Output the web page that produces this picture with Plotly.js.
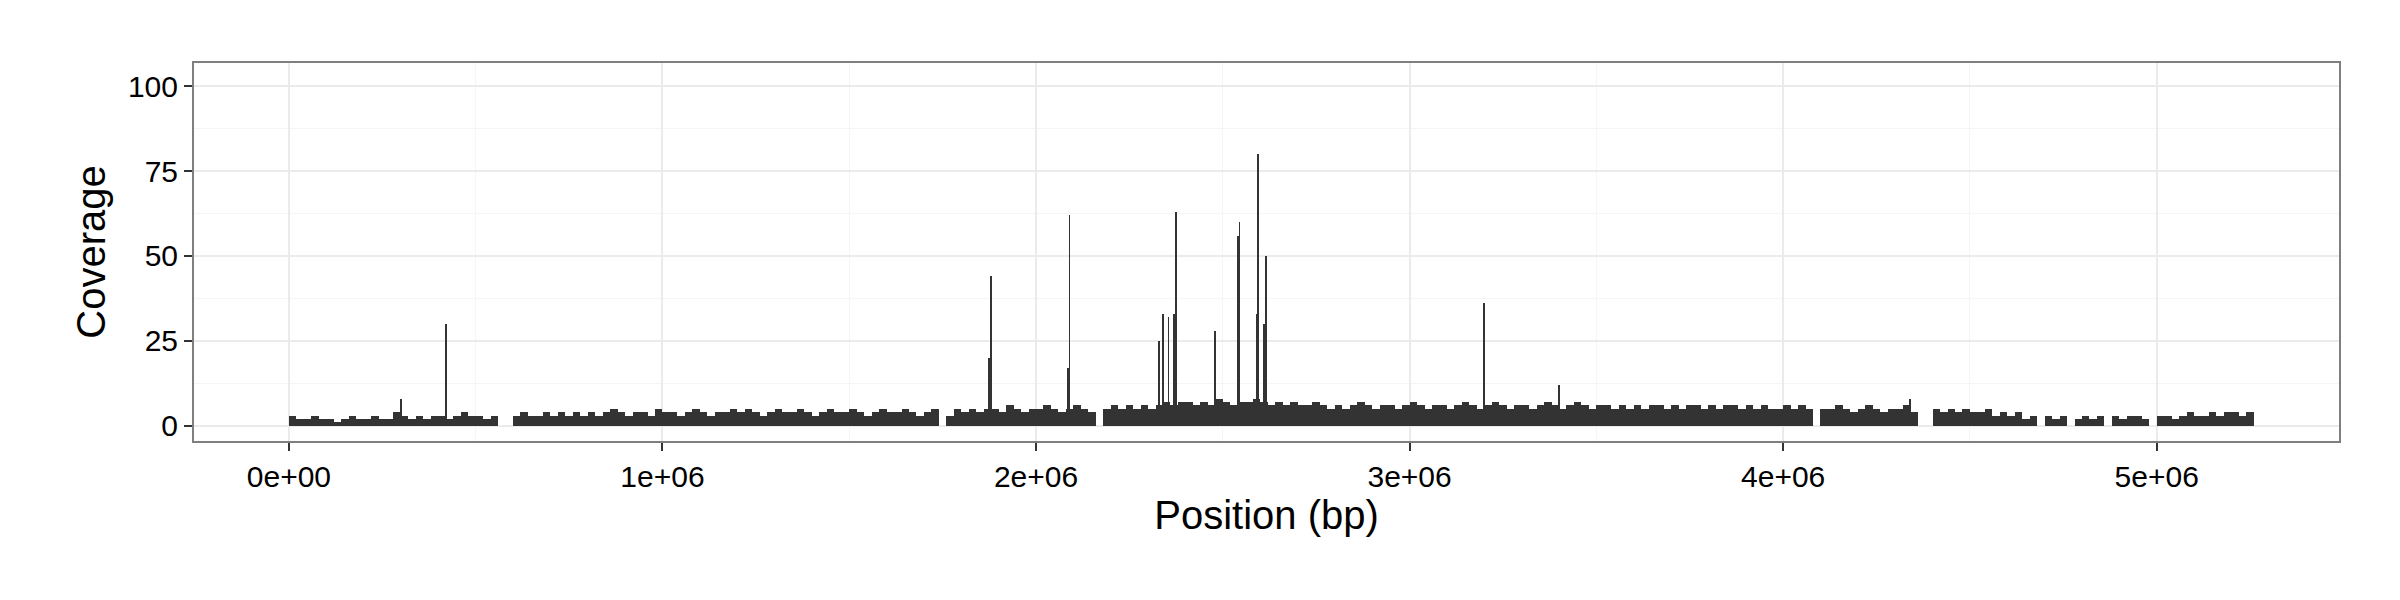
<!DOCTYPE html>
<html>
<head>
<meta charset="utf-8">
<script src="https://cdn.plot.ly/plotly-3.0.1.min.js"></script>
<style>body{margin:0;background:#fff}#chart{width:2400px;height:600px}</style>
</head>
<body>
<div id="chart"></div>
<script>
// baseline coverage, one value per 20 kb bin starting at 0
const binSize = 20000;
const baseCoverage = [
  3,2,2,3,2,2,1,2,3,2,2,3,2,2,4,3,2,3,2,3,
  3,2,3,4,3,3,2,3,0,0,3,4,3,3,4,3,4,3,4,3,
  4,3,4,5,4,3,4,4,3,5,4,4,3,4,5,4,3,4,4,5,
  4,5,4,3,4,5,4,4,5,4,3,4,5,4,4,5,4,3,4,5,
  4,4,5,4,3,4,5,0,3,5,4,5,4,5,5,4,6,5,4,5,
  5,6,5,4,5,6,5,4,0,5,6,5,6,5,6,5,6,7,6,7,
  7,6,7,6,8,7,6,7,7,8,7,6,7,6,7,6,6,7,6,5,
  6,5,6,7,6,5,6,6,5,6,7,6,5,6,6,5,6,7,6,5,
  6,7,6,5,6,6,5,6,7,6,5,6,7,6,5,6,6,5,6,5,
  6,5,6,6,5,6,5,6,6,5,6,5,6,6,5,6,5,6,5,5,
  6,5,6,5,0,5,5,6,5,4,5,6,5,4,5,5,6,4,0,0,
  5,4,5,4,5,4,4,5,3,4,3,4,2,3,0,3,2,3,0,2,
  3,2,3,0,3,2,3,3,2,0,3,3,2,3,4,3,3,4,3,4,
  4,3,4
];
const basePos = baseCoverage.map((v, i) => i * binSize + binSize / 2);

// isolated high-coverage spikes
const spikePos = [300000, 420000, 1875000, 1880000, 2085000, 2090000, 2330000, 2340000,
  2355000, 2370000, 2375000, 2480000, 2540000, 2545000, 2590000, 2595000, 2610000,
  2615000, 3200000, 3400000, 4340000];
const spikeCov = [8, 30, 20, 44, 17, 62, 25, 33, 32, 33, 63, 28, 56, 60, 33, 80, 30, 50, 36, 12, 8];

const barColor = "#333333";
const traces = [
  {x: basePos, y: baseCoverage, type: 'bar', width: binSize,
   marker: {color: barColor, line: {width: 0}}, hoverinfo: 'x+y'},
  {x: spikePos, y: spikeCov, type: 'bar', width: 1800,
   marker: {color: barColor, line: {width: 0}}, hoverinfo: 'x+y'}
];

const gridCol = "#ebebeb";
const layout = {
  width: 2400, height: 600,
  margin: {l: 194, r: 61, t: 63, b: 159},
  paper_bgcolor: '#fff', plot_bgcolor: '#fff',
  showlegend: false, barmode: 'overlay',
  font: {family: 'Liberation Sans, Arial, sans-serif', color: '#000'},
  xaxis: {
    range: [-254000, 5488000],
    tickvals: [0, 1e6, 2e6, 3e6, 4e6, 5e6],
    ticktext: ['0e+00', '1e+06', '2e+06', '3e+06', '4e+06', '5e+06'],
    tickfont: {size: 30}, ticks: 'outside', ticklen: 8, tickcolor: '#333', tickwidth: 2,
    showgrid: true, gridcolor: gridCol, gridwidth: 1.5,
    minor: {dtick: 500000, tick0: 500000, showgrid: true, gridcolor: '#f5f5f5', gridwidth: 1},
    zeroline: false, showline: true, linecolor: '#7f7f7f', linewidth: 2, mirror: true,
    title: {text: 'Position (bp)', font: {size: 40}, standoff: 8}
  },
  yaxis: {
    range: [-4.5, 106.8],
    tickvals: [0, 25, 50, 75, 100],
    tickfont: {size: 30}, ticks: 'outside', ticklen: 8, tickcolor: '#333', tickwidth: 2,
    showgrid: true, gridcolor: gridCol, gridwidth: 1.5,
    minor: {dtick: 25, tick0: 12.5, showgrid: true, gridcolor: '#f5f5f5', gridwidth: 1},
    zeroline: false, showline: true, linecolor: '#7f7f7f', linewidth: 2, mirror: true,
    title: {text: 'Coverage', font: {size: 40}, standoff: 10}
  },
  bargap: 0
};

Plotly.newPlot('chart', traces, layout, {displayModeBar: false});
</script>
</body>
</html>
